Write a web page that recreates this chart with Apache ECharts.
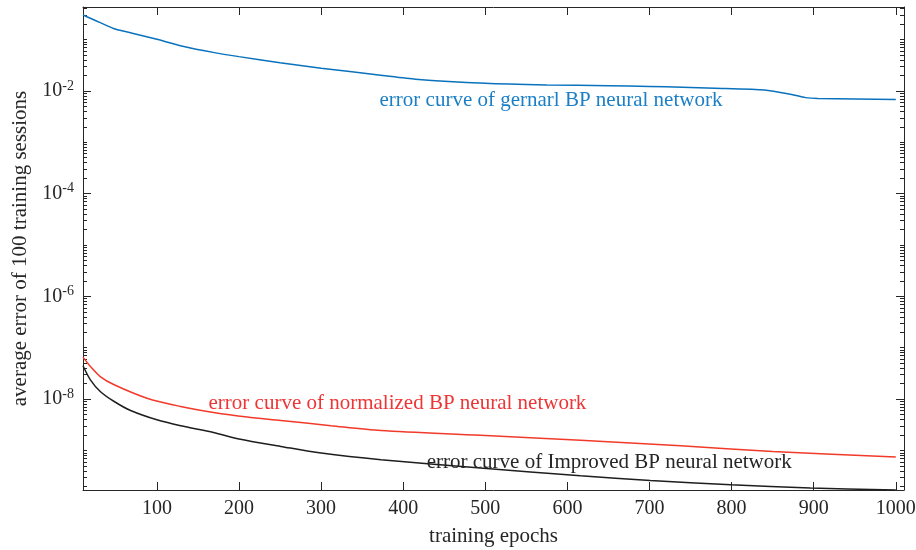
<!DOCTYPE html>
<html lang="en">
<head>
  <meta charset="UTF-8" />
  <title>Average error of 100 training sessions</title>
  <script src="https://cdn.jsdelivr.net/npm/echarts@6.0.0/dist/echarts.min.js"></script>
  <style>
    html, body { margin: 0; padding: 0; background: #fff; }
    #chart { width: 916px; height: 550px; }
  </style>
</head>
<body>
  <div id="chart"></div>
  <script>
    // values (log scale y)
    const generalEpochs = [10, 19, 31, 50, 70, 100, 130, 170, 200, 250, 300, 375, 415, 500, 575, 650, 700, 740, 780, 840, 870, 890, 905, 1000];
    const generalError = [0.30, 0.259, 0.213, 0.158, 0.133, 0.101, 0.075, 0.0556, 0.0465, 0.0355, 0.0277, 0.020, 0.0169, 0.0141, 0.0131, 0.0126, 0.0122, 0.0118, 0.0113, 0.01045, 0.00874, 0.0074, 0.0071, 0.0068];

    const normalizedEpochs = [10, 19, 31, 48, 88, 129, 169, 210, 251, 312, 373, 494, 616, 738, 850, 1000];
    const normalizedError = [6.56e-8, 4.31e-8, 2.75e-8, 1.90e-8, 1.04e-8, 7.18e-9, 5.48e-9, 4.46e-9, 3.84e-9, 3.03e-9, 2.44e-9, 1.98e-9, 1.58e-9, 1.23e-9, 9.6e-10, 7.45e-10];

    const improvedEpochs = [10, 19, 31, 48, 68, 100, 129, 169, 200, 251, 300, 373, 494, 616, 701, 799, 896, 1000];
    const improvedError = [4.45e-8, 2.37e-8, 1.41e-8, 8.98e-9, 6.0e-9, 3.95e-9, 3.03e-9, 2.24e-9, 1.67e-9, 1.20e-9, 8.9e-10, 6.6e-10, 4.55e-10, 3.22e-10, 2.61e-10, 2.15e-10, 1.85e-10, 1.7e-10];

    const xTicks = [100, 200, 300, 400, 500, 600, 700, 800, 900, 1000];
    const yMajorTicks = [1e-8, 1e-6, 1e-4, 1e-2];

    const yMin = 1.7e-10, yMax = 0.43;

    // minor ticks at k * 10^n, except the labelled decades
    const yMinorTicks = [];
    for (let n = -10; n <= 0; n++) {
      for (let k = 1; k <= 9; k++) {
        const v = parseFloat((k * Math.pow(10, n)).toPrecision(3));
        if (v < yMin || v > yMax) continue;
        if (k === 1 && n % 2 === 0) continue;
        yMinorTicks.push(v);
      }
    }

    const FONT = '"Liberation Serif", "DejaVu Serif", serif';
    const INK = '#262626';

    function zip(xs, ys) {
      return xs.map((x, i) => [x, ys[i]]);
    }

    function expLabel(v) {
      const e = Math.round(Math.log10(v));
      return '{b|10}{e|' + e + '}';
    }

    function note(coord, text, color) {
      return {
        symbol: 'circle',
        symbolSize: 1,
        itemStyle: { color: 'rgba(0,0,0,0)' },
        label: {
          show: true,
          position: 'inside',
          formatter: text,
          color: color,
          fontFamily: FONT,
          fontSize: 21
        },
        data: [{ coord: coord }]
      };
    }

    const tickLine = { color: INK, width: 1 };

    function yAxisDef(pos, ticks, len, withLabels, withLine) {
      return {
        type: 'log',
        position: pos,
        min: yMin,
        max: yMax,
        axisLine: { show: withLine, lineStyle: tickLine },
        axisTick: { show: true, inside: true, length: len, lineStyle: tickLine, customValues: ticks },
        axisLabel: withLabels ? {
          show: true,
          customValues: yMajorTicks,
          formatter: expLabel,
          margin: 9,
          rich: {
            b: { fontFamily: FONT, fontSize: 20, color: INK, lineHeight: 24 },
            e: { fontFamily: FONT, fontSize: 14, color: INK, verticalAlign: 'top', lineHeight: 14 }
          }
        } : { show: false },
        splitLine: { show: false },
        minorTick: { show: false }
      };
    }

    const chart = echarts.init(document.getElementById('chart'));
    chart.setOption({
      animation: false,
      backgroundColor: '#fff',
      grid: { left: 83, right: 12, top: 7, bottom: 60, outerBoundsMode: 'none' },
      xAxis: [
        {
          type: 'value',
          position: 'bottom',
          min: 10,
          max: 1010,
          name: 'training epochs',
          nameLocation: 'middle',
          nameGap: 36,
          nameMoveOverlap: false,
          nameTextStyle: { fontFamily: FONT, fontSize: 21, color: INK },
          axisLine: { show: true, lineStyle: tickLine },
          axisTick: { show: true, inside: true, length: 8, lineStyle: tickLine, customValues: xTicks },
          axisLabel: {
            customValues: xTicks,
            formatter: v => String(v),
            fontFamily: FONT, fontSize: 20, color: INK, margin: 9
          },
          splitLine: { show: false }
        },
        {
          type: 'value',
          position: 'top',
          min: 10,
          max: 1010,
          axisLine: { show: true, lineStyle: tickLine },
          axisTick: { show: true, inside: true, length: 8, lineStyle: tickLine, customValues: xTicks },
          axisLabel: { show: false },
          splitLine: { show: false }
        }
      ],
      yAxis: [
        Object.assign(yAxisDef('left', yMajorTicks, 8, true, true), {
          name: 'average error of 100 training sessions',
          nameLocation: 'middle',
          nameGap: 52,
          nameMoveOverlap: false,
          nameTextStyle: { fontFamily: FONT, fontSize: 21, color: INK }
        }),
        yAxisDef('left', yMinorTicks, 4, false, false),
        yAxisDef('right', yMajorTicks, 8, false, true),
        yAxisDef('right', yMinorTicks, 4, false, false)
      ],
      series: [
        {
          type: 'line',
          name: 'general',
          data: zip(generalEpochs, generalError),
          showSymbol: false,
          smooth: 0.2,
          lineStyle: { color: '#0a72bd', width: 1.5 },
          markPoint: note([580, 0.0066], 'error curve of gernarl BP neural network', '#1b7fc6')
        },
        {
          type: 'line',
          name: 'normalized',
          data: zip(normalizedEpochs, normalizedError),
          showSymbol: false,
          smooth: 0.3,
          lineStyle: { color: '#f23a2a', width: 1.5 },
          markPoint: note([393, 8.3e-9], 'error curve of normalized BP neural network', '#ee3535')
        },
        {
          type: 'line',
          name: 'improved',
          data: zip(improvedEpochs, improvedError),
          showSymbol: false,
          smooth: 0.3,
          lineStyle: { color: '#1e1e1e', width: 1.5 },
          markPoint: note([651, 5.9e-10], 'error curve of Improved BP neural network', INK)
        }
      ]
    });
  </script>
</body>
</html>
